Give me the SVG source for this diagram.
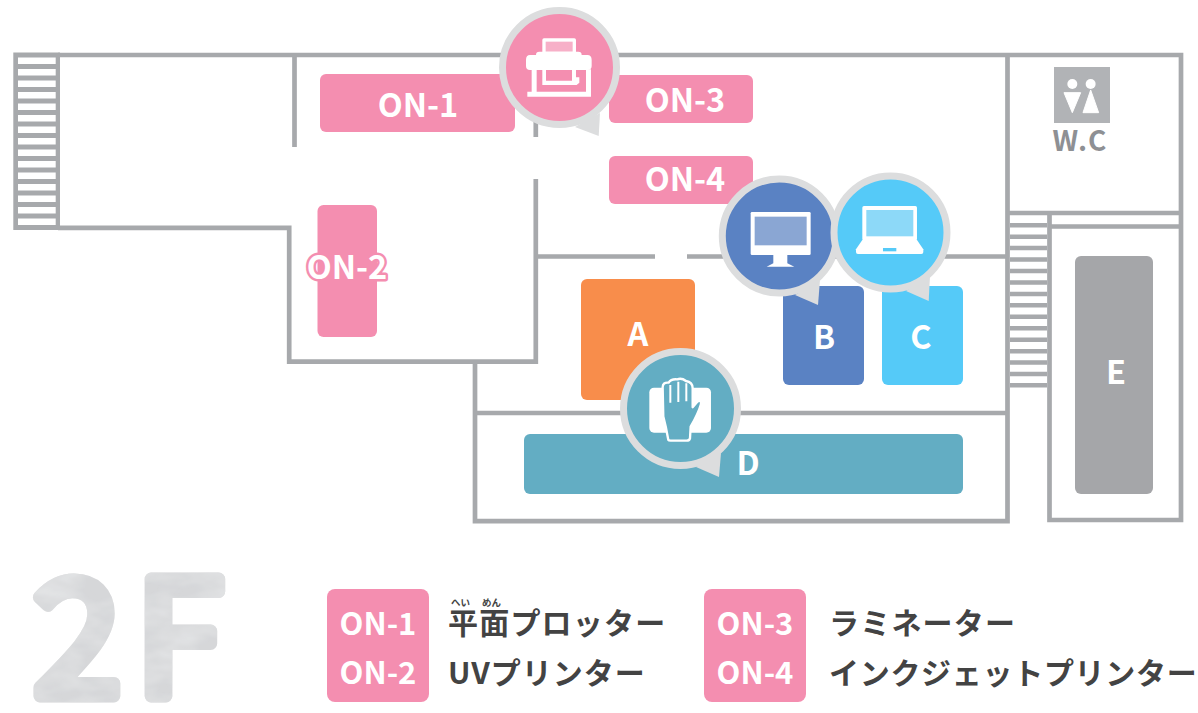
<svg xmlns="http://www.w3.org/2000/svg" width="1198" height="713" viewBox="0 0 1198 713">
<style>
.w{fill:none;stroke:#a7a9ac;stroke-width:4.700}
.t{font-family:"Noto Sans CJK JP","Noto Sans",sans-serif;font-weight:700}
.l{fill:#fff;font-size:32.500px;text-anchor:middle}
.g{fill:#fff;font-size:31px;text-anchor:middle}
.k{fill:#434343;font-size:30px}
.f{fill:#434343;font-size:9.500px}
.r{fill:#dcddde}
.i{fill:#fff}
</style>
<defs>
<filter id="tex" x="-5%" y="-5%" width="110%" height="110%">
<feTurbulence type="fractalNoise" baseFrequency="0.025 0.05" numOctaves="3" seed="4" result="n"/>
<feColorMatrix in="n" type="matrix" values="0 0 0 0 .76  0 0 0 0 .77  0 0 0 0 .78  1.8 0 0 0 -.5" result="c"/>
<feComposite in="c" in2="SourceAlpha" operator="in" result="m"/>
<feMerge><feMergeNode in="SourceGraphic"/><feMergeNode in="m"/></feMerge>
</filter>
</defs>
<rect width="1198" height="713" fill="#fff"/>
<g id="floorplan">
<rect x="13.300" y="52.500" width="46.700" height="177.500" fill="#a7a9ac"/>
<path d="M18 60.700H55.700M18 72.200H55.700M18 83.700H55.700M18 95.200H55.700M18 106.700H55.700M18 118.200H55.700M18 129.700H55.700M18 141.200H55.700M18 152.700H55.700M18 164.200H55.700M18 175.700H55.700M18 187.200H55.700M18 198.700H55.700M18 210.200H55.700M18 221.700H55.700" fill="none" stroke="#fff" stroke-width="6.500"/>
<path class="w" d="M58 55H1181V520H1049.500V213M1007.500 55V521.200H475V361.700H289.200V227.800H58M294.500 55V147M535.800 110V137M535.800 179V361.700H475M537 256.500H655M687 256.500H1007M475 413H1007M1007 213H1181M1049.500 226.500H1181"/>
<path d="M1010 225.200H1047M1010 236.650H1047M1010 248.100H1047M1010 259.550H1047M1010 271H1047M1010 282.450H1047M1010 293.900H1047M1010 305.350H1047M1010 316.800H1047M1010 328.250H1047M1010 339.700H1047M1010 351.150H1047M1010 362.600H1047M1010 374.050H1047M1010 385.300H1047" fill="none" stroke="#a7a9ac" stroke-width="4.500"/>
</g>
<g id="ON-1"><rect x="320" y="74" width="195" height="58" rx="6" fill="#f48eb0"/><text class="t l" x="418" y="117">ON-1</text></g>
<g id="ON-2"><rect x="317.500" y="205" width="59.500" height="132" rx="6" fill="#f48eb0"/><text class="t l" x="347" y="279" stroke="#f48eb0" stroke-width="5" stroke-linejoin="round" paint-order="stroke">ON-2</text></g>
<g id="ON-3"><rect x="609" y="75" width="144" height="48" rx="6" fill="#f48eb0"/><text class="t l" x="685" y="112">ON-3</text></g>
<g id="ON-4"><rect x="609" y="156" width="144" height="48" rx="6" fill="#f48eb0"/><text class="t l" x="685" y="191">ON-4</text></g>
<g id="A"><rect x="581" y="279" width="114" height="121" rx="6" fill="#f88d4b"/><text class="t l" x="638" y="346">A</text></g>
<g id="B"><rect x="783" y="286" width="81" height="99" rx="6" fill="#5a82c3"/><text class="t l" x="824" y="349">B</text></g>
<g id="C"><rect x="882" y="286" width="81" height="99" rx="6" fill="#55caf8"/><text class="t l" x="921" y="349">C</text></g>
<g id="D"><rect x="524" y="434" width="439" height="60" rx="6" fill="#63adc3"/><text class="t l" x="748" y="475">D</text></g>
<g id="E"><rect x="1075" y="256" width="78" height="238" rx="6" fill="#a5a6a9"/><text class="t l" x="1116" y="384">E</text></g>
<g id="WC">
<rect x="1054" y="67" width="56" height="56" fill="#b1b3b6"/>
<g class="i" transform="translate(990 40) scale(.3333)"><circle cx="247" cy="132" r="15"/><circle cx="302" cy="132" r="15"/><path d="M222 158H272L247 218ZM302 150L326 218H279Z" stroke="#fff" stroke-width="3" stroke-linejoin="round"/></g>
<text class="t" x="1080" y="151" fill="#8e9094" font-size="28" text-anchor="middle" letter-spacing="1">W.C</text>
</g>
<g id="bubble-printer">
<path class="r" d="M575 127L598.700 136L600 113Z"/><circle cx="559.500" cy="67.500" r="57" fill="#f48eb0" stroke="#dcddde" stroke-width="7"/>
<g transform="translate(480 0) scale(.3333)" class="i"><rect x="187" y="115" width="101" height="50" rx="5"/><rect x="197" y="125" width="81" height="30" fill="#f7b0c8"/><path d="M168 165Q168 155 178 155H295Q305 155 305 165H322Q335 165 335 180V198Q335 210 322 210H150Q138 210 138 198V180Q138 165 150 165Z"/><path d="M155 208H170V275H318V208H333V275V290H142V275H155Z"/><path d="M187 208H198V242H276V208H288V232H298V248L290 255H187Z"/></g>
</g>
<g id="bubble-monitor">
<path class="r" d="M795 295L818 305L820 280Z"/><circle cx="779.300" cy="236" r="57" fill="#5a82c3" stroke="#dcddde" stroke-width="7"/>
<g transform="translate(700 160) scale(.3333)" class="i"><rect x="152" y="156" width="180" height="129" rx="4"/><rect x="164" y="170" width="156" height="86" fill="#8aa6d3"/><path d="M220 285H262V310L283 320H200L220 310Z"/></g>
</g>
<g id="bubble-laptop">
<path class="r" d="M906 291L928.700 301L930 276Z"/><circle cx="890.500" cy="232.500" r="56.500" fill="#55caf8" stroke="#dcddde" stroke-width="7"/>
<g transform="translate(700 160) scale(.3333)"><rect class="i" x="487" y="138" width="164" height="104" rx="5"/><rect x="499" y="150" width="141" height="79" fill="#8dd9f8"/><path class="i" d="M487 240H651L670 268V276Q670 282 664 282H474Q468 282 468 276V268Z"/><rect x="549" y="264" width="40" height="10" fill="#55caf8"/></g>
</g>
<g id="bubble-hand">
<path class="r" d="M696 467L719 477L721 453Z"/><circle cx="680.500" cy="408.500" r="57" fill="#63adc3" stroke="#dcddde" stroke-width="7"/>
<g transform="translate(570 330) scale(.3333)"><rect class="i" x="238" y="173" width="185" height="135" rx="14"/>
<path d="M295 330Q288 290 280 260L278 172Q278 156 296 158Q303 146 322 148Q335 143 348 153Q368 156 368 175V232L382 215Q394 208 393 222Q385 250 362 290L360 325Q358 332 350 332H302Q296 332 295 330Z" fill="#63adc3" stroke="#fff" stroke-width="7" stroke-linejoin="round"/>
<path d="M301 165V218M325 155V216M349 160V214" fill="none" stroke="#fff" stroke-width="6"/></g>
</g>
<g id="title"><text x="33 135" y="695.500" font-family="'Noto Sans CJK JP','Noto Sans',sans-serif" font-weight="400" font-size="160" fill="#d6d7d9" stroke="#d6d7d9" stroke-width="13" stroke-linejoin="round" stroke-linecap="round" filter="url(#tex)">2F</text></g>
<g id="legend">
<rect x="327" y="589" width="102" height="113" rx="8" fill="#f48eb0"/><rect x="704" y="589" width="102" height="113" rx="8" fill="#f48eb0"/>
<text class="t g" x="378" y="635">ON-1</text><text class="t g" x="378" y="684">ON-2</text><text class="t g" x="755" y="635">ON-3</text><text class="t g" x="755" y="684">ON-4</text>
<text class="t f" x="451" y="605.500">へい</text><text class="t f" x="482" y="605.500">めん</text>
<text class="t k" x="448" y="634" letter-spacing="1.200">平面プロッタ<tspan letter-spacing="0">ー</tspan></text><text class="t k" x="448" y="684" letter-spacing="1">UVプリンタ<tspan letter-spacing="0">ー</tspan></text>
<text class="t k" x="829" y="634" letter-spacing="1.200">ラミネータ<tspan letter-spacing="0">ー</tspan></text><text class="t k" x="829" y="684" letter-spacing=".7">インクジェットプリンタ<tspan letter-spacing="0">ー</tspan></text>
</g>
</svg>
